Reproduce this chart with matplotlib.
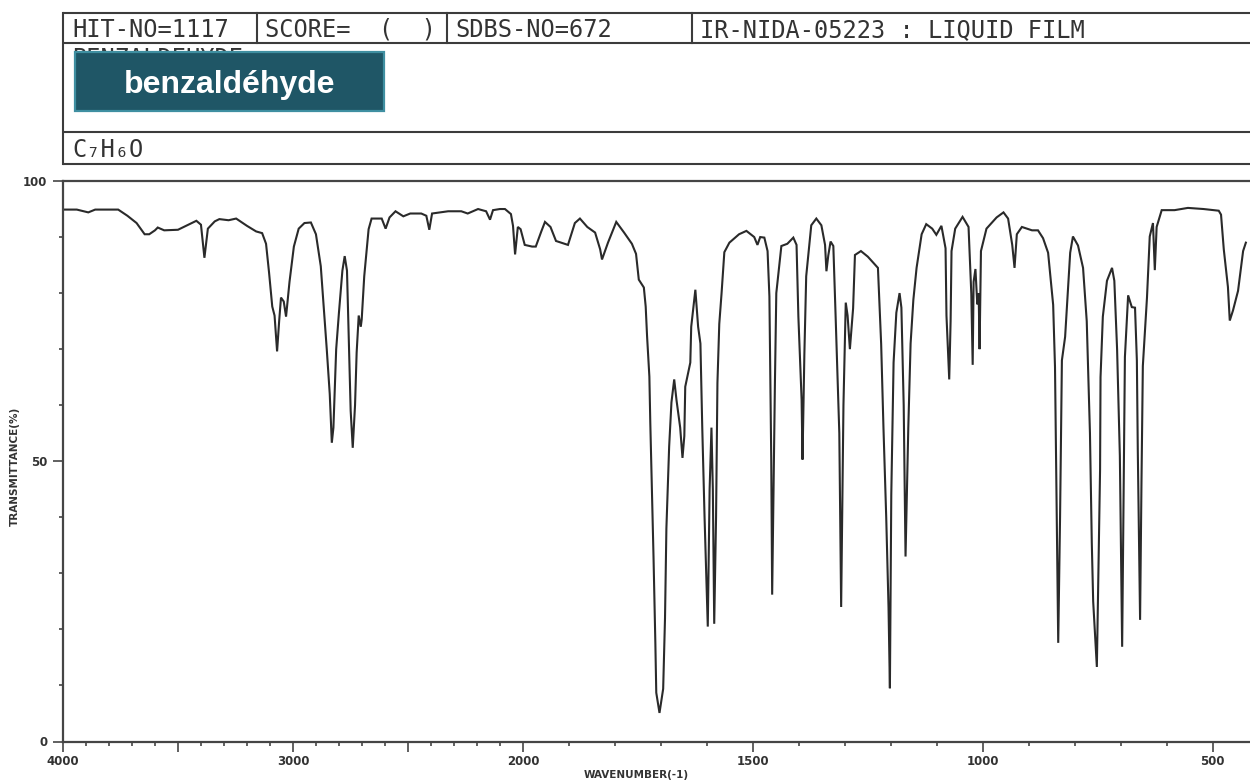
import numpy as np
import matplotlib
matplotlib.use("Agg")
import matplotlib.pyplot as plt
from matplotlib.patches import Rectangle
from matplotlib.ticker import FixedLocator, FixedFormatter

# ---------------- data ----------------
wavenumber = [
    4000, 3940, 3890, 3860, 3760, 3720, 3680, 3645, 3625, 3600, 3588, 3560, 3500, 3450,
    3420, 3400, 3385, 3370, 3340, 3320, 3280, 3247, 3200, 3160, 3134, 3117, 3104, 3090,
    3080, 3069, 3060, 3052, 3040, 3030, 3015, 2996, 2975, 2950, 2922, 2900, 2879, 2860,
    2853, 2840, 2831, 2824, 2812, 2800, 2785, 2775, 2765, 2749, 2740, 2730, 2723, 2714,
    2705, 2701, 2690, 2671, 2658, 2614, 2597, 2580, 2554, 2520, 2490, 2442, 2420, 2407,
    2395, 2325, 2268, 2240, 2195, 2160, 2143, 2130, 2100, 2078, 2052, 2043, 2034, 2022,
    2010, 1996, 1980, 1972, 1960, 1952, 1940, 1928, 1902, 1887, 1876, 1860, 1843, 1832,
    1828, 1815, 1797, 1780, 1763, 1754, 1748, 1737, 1733, 1730, 1725, 1723, 1716, 1712,
    1710, 1703, 1695, 1691, 1688, 1682, 1677, 1671, 1666, 1658, 1653, 1649, 1647, 1636,
    1634, 1625, 1619, 1614, 1610, 1605, 1600, 1598, 1594, 1590, 1587, 1584, 1580, 1577,
    1573, 1568, 1562, 1551, 1530, 1514, 1497, 1490, 1484, 1475, 1468, 1464, 1460, 1458,
    1455, 1452, 1449, 1438, 1425, 1412, 1405, 1401, 1394, 1392, 1388, 1384, 1373, 1362,
    1351, 1343, 1340, 1336, 1331, 1325, 1320, 1312, 1308, 1303, 1298, 1294, 1289, 1282,
    1278, 1265, 1250, 1228, 1221, 1216, 1210, 1205, 1202, 1199, 1194, 1188, 1181, 1177,
    1172, 1168, 1162, 1157, 1151, 1144, 1133, 1123, 1110, 1101, 1090, 1081, 1079, 1073,
    1070, 1068, 1060, 1044, 1031, 1025, 1022, 1020, 1016, 1012, 1009, 1007, 1004, 992,
    970, 955, 945, 936, 931, 926, 915, 893, 880, 869, 858, 847, 843, 840,
    836, 832, 828, 821, 810, 804, 793, 782, 774, 767, 763, 760, 752, 749,
    745, 744, 739, 730, 719, 714, 708, 702, 697, 694, 691, 684, 676, 669,
    665, 663, 658, 655, 652, 643, 637, 630, 626, 622, 611, 583, 554, 520,
    487, 482, 476, 467, 463, 456, 445, 434, 428,
]
transmittance = [
    94.9, 94.9, 94.4, 94.9, 94.9, 93.8, 92.5, 90.5, 90.5, 91.2, 91.7, 91.2, 91.3, 92.3,
    92.9, 92.2, 86.3, 91.5, 92.8, 93.2, 93.0, 93.3, 92.0, 91.0, 90.7, 88.8, 83.7, 77.6,
    76.0, 69.6, 75.0, 79.2, 78.5, 75.8, 82.0, 88.3, 91.5, 92.5, 92.6, 90.5, 84.8, 74.0,
    70.0, 62.0, 53.3, 56.0, 70.0, 76.5, 84.0, 86.6, 84.0, 59.0, 52.4, 60.0, 69.4, 76.0,
    74.0, 75.3, 83.0, 91.4, 93.3, 93.3, 91.5, 93.5, 94.6, 93.7, 94.2, 94.2, 93.8, 91.3,
    94.2, 94.6, 94.6, 94.2, 95.0, 94.6, 93.1, 94.8, 95.0, 95.0, 94.1, 92.0, 86.9, 91.8,
    91.4, 88.6, 88.3, 88.3, 91.0, 92.7, 91.8, 89.3, 88.6, 92.5, 93.3, 91.8, 90.8, 87.8,
    86.0, 89.0, 92.7, 90.8, 88.8, 87.0, 82.4, 81.0, 77.6, 72.3, 65.1, 56.9, 33.0, 17.6,
    8.7, 5.1, 9.4, 22.0, 38.0, 52.6, 60.5, 64.6, 60.9, 56.0, 50.6, 54.5, 63.3, 67.6,
    74.0, 80.6, 74.0, 71.0, 56.0, 40.0, 26.0, 20.5, 45.0, 56.0, 45.0, 21.0, 40.0, 64.0,
    74.5, 80.0, 87.3, 89.0, 90.5, 91.1, 90.0, 88.6, 90.0, 89.9, 87.5, 79.4, 50.3, 26.2,
    45.0, 64.0, 80.0, 88.4, 88.8, 89.9, 88.6, 75.8, 61.0, 50.3, 69.0, 83.0, 92.1, 93.3,
    92.1, 88.6, 83.9, 86.7, 89.2, 88.4, 75.8, 55.0, 24.0, 60.0, 78.3, 76.0, 70.0, 77.3,
    86.8, 87.5, 86.5, 84.5, 70.9, 56.0, 40.0, 24.0, 9.5, 44.0, 67.6, 76.5, 80.0, 77.4,
    60.0, 33.0, 56.0, 71.0, 78.8, 84.5, 90.5, 92.3, 91.5, 90.4, 92.0, 88.0, 76.0, 64.6,
    75.0, 87.5, 91.5, 93.6, 91.8, 79.9, 67.2, 82.0, 84.3, 78.0, 80.0, 70.0, 87.5, 91.5,
    93.5, 94.4, 93.3, 88.6, 84.5, 90.5, 91.8, 91.2, 91.2, 89.8, 87.2, 77.9, 66.8, 45.0,
    17.6, 40.0, 68.0, 72.2, 87.2, 90.1, 88.5, 84.5, 75.0, 55.0, 35.4, 25.0, 13.3, 28.0,
    48.5, 65.0, 75.8, 82.2, 84.5, 82.2, 70.0, 51.0, 16.9, 43.0, 68.6, 79.6, 77.5, 77.4,
    68.0, 52.0, 21.7, 46.0, 67.0, 79.2, 90.1, 92.5, 84.1, 91.8, 94.8, 94.8, 95.2, 95.0,
    94.7, 94.0, 87.8, 81.1, 75.1, 76.9, 80.4, 87.5, 89.0,
]

x_major_ticks = [4000, 3500, 3000, 2500, 2000, 1500, 1000, 500]
x_major_labels = ["4000", "", "3000", "", "2000", "1500", "1000", "500"]
y_major_ticks = [0, 50, 100]
y_major_labels = ["0", "50", "100"]

header_row1 = ["HIT-NO=1117", "SCORE=  (  )", "SDBS-NO=672", "IR-NIDA-05223 : LIQUID FILM"]
compound_name = "BENZALDEHYDE"
formula = "C\u2087H\u2086O"
badge_text = "benzaldéhyde"

# ---------------- figure ----------------
W, H = 1250, 782
fig = plt.figure(figsize=(W / 100, H / 100), dpi=100)
fig.patch.set_facecolor("white")

# spectrum axes (piecewise scale: 2x expansion below 2000 cm-1)
ax = fig.add_axes([63 / W, (H - 741.5) / H, (W - 63) / W, (741.5 - 181) / H])


def fwd(w):
    w = np.asarray(w, dtype=float)
    return np.where(w > 2000, 2000 + (w - 2000) / 2.0, w)


def inv(u):
    u = np.asarray(u, dtype=float)
    return np.where(u > 2000, 2000 + (u - 2000) * 2.0, u)


ax.set_xscale("function", functions=(fwd, inv))
ax.plot(wavenumber, transmittance, color="#2a2a2a", lw=1.5, solid_joinstyle="miter")
ax.set_xlim(4000, 419)
ax.set_ylim(0, 100)

spine_c = "#454545"
for s in ["left", "bottom", "top"]:
    ax.spines[s].set_color(spine_c)
    ax.spines[s].set_linewidth(1.6)
ax.spines["right"].set_visible(False)

ax.xaxis.set_major_locator(FixedLocator(x_major_ticks))
ax.xaxis.set_major_formatter(FixedFormatter(x_major_labels))
ax.xaxis.set_minor_locator(FixedLocator(list(range(4000, 399, -100))))
ax.yaxis.set_major_locator(FixedLocator(y_major_ticks))
ax.yaxis.set_major_formatter(FixedFormatter(y_major_labels))
ax.yaxis.set_minor_locator(FixedLocator(list(range(0, 101, 10))))

ax.tick_params(axis="both", which="major", direction="out", length=7.2, width=1.2,
               color=spine_c, labelsize=8.5, labelcolor="#333333")
ax.tick_params(axis="both", which="minor", direction="out", length=3.0, width=1.2,
               color=spine_c)
ax.tick_params(axis="x", which="major", pad=2.5)
ax.tick_params(axis="y", which="major", pad=4)
for lab in ax.get_xticklabels() + ax.get_yticklabels():
    lab.set_fontweight("bold")
    lab.set_family("DejaVu Sans")

ax.set_xlabel("WAVENUMBER(-1)", fontsize=7.5, fontweight="bold", color="#333333",
              va="center")
ax.xaxis.set_label_coords((636 - 63) / (W - 63), (741.5 - 775) / (741.5 - 181))
ax.set_ylabel("TRANSMITTANCE(%)", fontsize=7.5, fontweight="bold", color="#333333",
              va="center")
ax.yaxis.set_label_coords((15 - 63) / (W - 63), (741.5 - 466) / (741.5 - 181))

# ---------------- header (pixel-coordinate overlay) ----------------
hx = fig.add_axes([0, 0, 1, 1], zorder=5)
hx.set_xlim(0, W)
hx.set_ylim(H, 0)
hx.axis("off")

line_c = "#3c3c3c"
lw = 1.5
for yy in [13, 43, 132, 164]:
    hx.plot([63, W + 5], [yy, yy], color=line_c, lw=lw, solid_capstyle="butt")
hx.plot([63, 63], [13, 164], color=line_c, lw=lw)
for xx in [257, 447, 692]:
    hx.plot([xx, xx], [13, 43], color=line_c, lw=lw)

mono = ["DejaVu Sans Mono", "DejaVu Sans"]
hdr_x = [72, 265, 455, 700]
for txt, xx in zip(header_row1, hdr_x):
    hx.text(xx, 37, txt, family=mono, fontsize=17, color="#333333", va="baseline", ha="left")
hx.text(72, 66, compound_name, family=mono, fontsize=17, color="#333333",
        va="baseline", ha="left", zorder=1)
hx.text(72, 157, formula, family=mono, fontsize=17, color="#333333",
        va="baseline", ha="left")

hx.add_patch(Rectangle((75, 52), 309, 59, facecolor="#1f5666", edgecolor="#3f8fa1",
                       lw=1.6, zorder=3))
hx.text(229.5, 93, badge_text, family=["Liberation Sans", "DejaVu Sans"],
        fontsize=23, fontweight="bold", color="white", ha="center", va="baseline",
        zorder=4)

fig.savefig("out.png", dpi=100, facecolor="white")
